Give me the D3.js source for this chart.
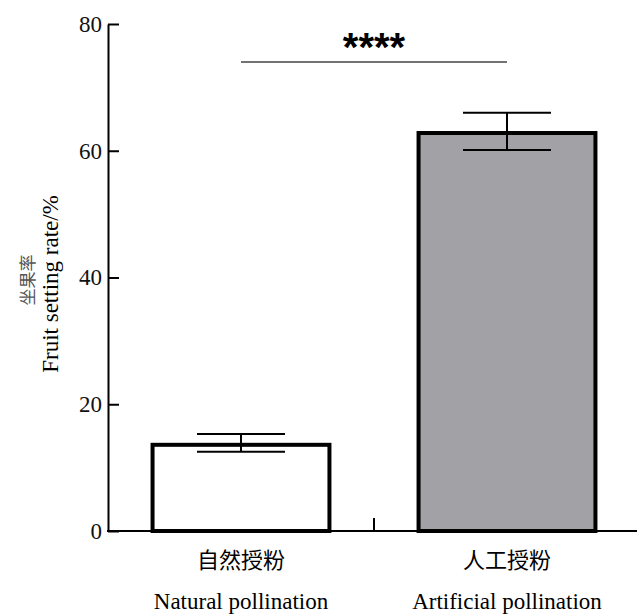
<!DOCTYPE html>
<html lang="zh">
<head>
    <meta charset="UTF-8">
    <title>Fruit setting rate</title>
    <script src="https://d3js.org/d3.v7.min.js"></script>
    <style>
        body { margin: 0; background: #fff; }
        .tick text { font-family: "Liberation Serif", serif; font-size: 23px; }
    </style>
</head>
<body>
    <svg id="chart" width="637" height="614"></svg>
    <script>
        // data
        const categoriesZh = ["自然授粉", "人工授粉"];
        const categoriesEn = ["Natural pollination", "Artificial pollination"];
        const means = [13.6, 62.8];
        const errUpper = [15.3, 66.0];
        const errLower = [12.5, 60.1];
        const yTicks = [0, 20, 40, 60, 80];
        const fills = ["#ffffff", "#a2a1a6"];
        const sigLabel = "****";

        const svg = d3.select("#chart");
        const x0 = 108, xEnd = 640, yTop = 24, yBottom = 531;

        const x = d3.scaleBand()
            .domain(categoriesZh)
            .range([x0, xEnd])
            .paddingInner(0.335)
            .paddingOuter(0.1675);

        const y = d3.scaleLinear()
            .domain([0, 80])
            .range([yBottom, yTop]);

        // bars
        svg.selectAll(".bar")
            .data(means)
            .enter().append("rect")
            .attr("x", (d, i) => x(categoriesZh[i]))
            .attr("y", d => y(d))
            .attr("width", x.bandwidth())
            .attr("height", d => y(0) - y(d))
            .attr("fill", (d, i) => fills[i])
            .attr("stroke", "#000")
            .attr("stroke-width", 4);

        // error bars
        const capW = 88;
        const err = svg.append("g").attr("stroke", "#000").attr("stroke-width", 2);
        categoriesZh.forEach((c, i) => {
            const cx = x(c) + x.bandwidth() / 2;
            err.append("line").attr("x1", cx).attr("x2", cx)
                .attr("y1", y(errUpper[i])).attr("y2", y(errLower[i]));
            err.append("line").attr("x1", cx - capW / 2).attr("x2", cx + capW / 2)
                .attr("y1", y(errUpper[i])).attr("y2", y(errUpper[i]));
            err.append("line").attr("x1", cx - capW / 2).attr("x2", cx + capW / 2)
                .attr("y1", y(errLower[i])).attr("y2", y(errLower[i]));
        });

        // y axis, ticks point inward
        const yAxis = svg.append("g")
            .attr("transform", `translate(${x0},0)`)
            .call(d3.axisLeft(y).tickValues(yTicks).tickSizeInner(-11).tickSizeOuter(0).tickPadding(6));
        yAxis.select(".domain").attr("stroke-width", 2);
        yAxis.selectAll(".tick line").attr("stroke-width", 2);
        yAxis.selectAll(".tick text").attr("fill", "#111");

        // x axis line
        svg.append("line")
            .attr("x1", x0 - 1).attr("x2", 637)
            .attr("y1", yBottom).attr("y2", yBottom)
            .attr("stroke", "#000").attr("stroke-width", 2);

        // small tick between the groups
        const midX = (x(categoriesZh[0]) + x(categoriesZh[1]) + x.bandwidth()) / 2;
        svg.append("line")
            .attr("x1", midX).attr("x2", midX)
            .attr("y1", yBottom).attr("y2", yBottom - 13)
            .attr("stroke", "#000").attr("stroke-width", 2);

        // x labels
        categoriesZh.forEach((c, i) => {
            const cx = x(c) + x.bandwidth() / 2;
            svg.append("text")
                .attr("x", cx).attr("y", 568)
                .attr("text-anchor", "middle")
                .attr("font-family", "Noto Sans CJK SC, sans-serif")
                .attr("font-size", 22)
                .text(c);
            svg.append("text")
                .attr("x", cx).attr("y", 609)
                .attr("text-anchor", "middle")
                .attr("font-family", "Liberation Serif, serif")
                .attr("font-size", 23)
                .text(categoriesEn[i]);
        });

        // significance bracket
        const c1 = x(categoriesZh[0]) + x.bandwidth() / 2;
        const c2 = x(categoriesZh[1]) + x.bandwidth() / 2;
        svg.append("line")
            .attr("x1", c1).attr("x2", c2)
            .attr("y1", 62).attr("y2", 62)
            .attr("stroke", "#444").attr("stroke-width", 1.3);
        svg.append("text")
            .attr("x", (c1 + c2) / 2).attr("y", 61)
            .attr("text-anchor", "middle")
            .attr("font-family", "Liberation Sans, sans-serif")
            .attr("font-weight", "bold")
            .attr("font-size", 40)
            .text(sigLabel);

        // y title
        svg.append("text")
            .attr("transform", "translate(34,280) rotate(-90)")
            .attr("text-anchor", "middle")
            .attr("font-family", "Noto Sans CJK SC, sans-serif")
            .attr("font-size", 17)
            .attr("fill", "#555")
            .text("坐果率");
        svg.append("text")
            .attr("transform", "translate(58,284) rotate(-90)")
            .attr("text-anchor", "middle")
            .attr("font-family", "Liberation Serif, serif")
            .attr("font-size", 23)
            .text("Fruit setting rate/%");
    </script>
</body>
</html>
